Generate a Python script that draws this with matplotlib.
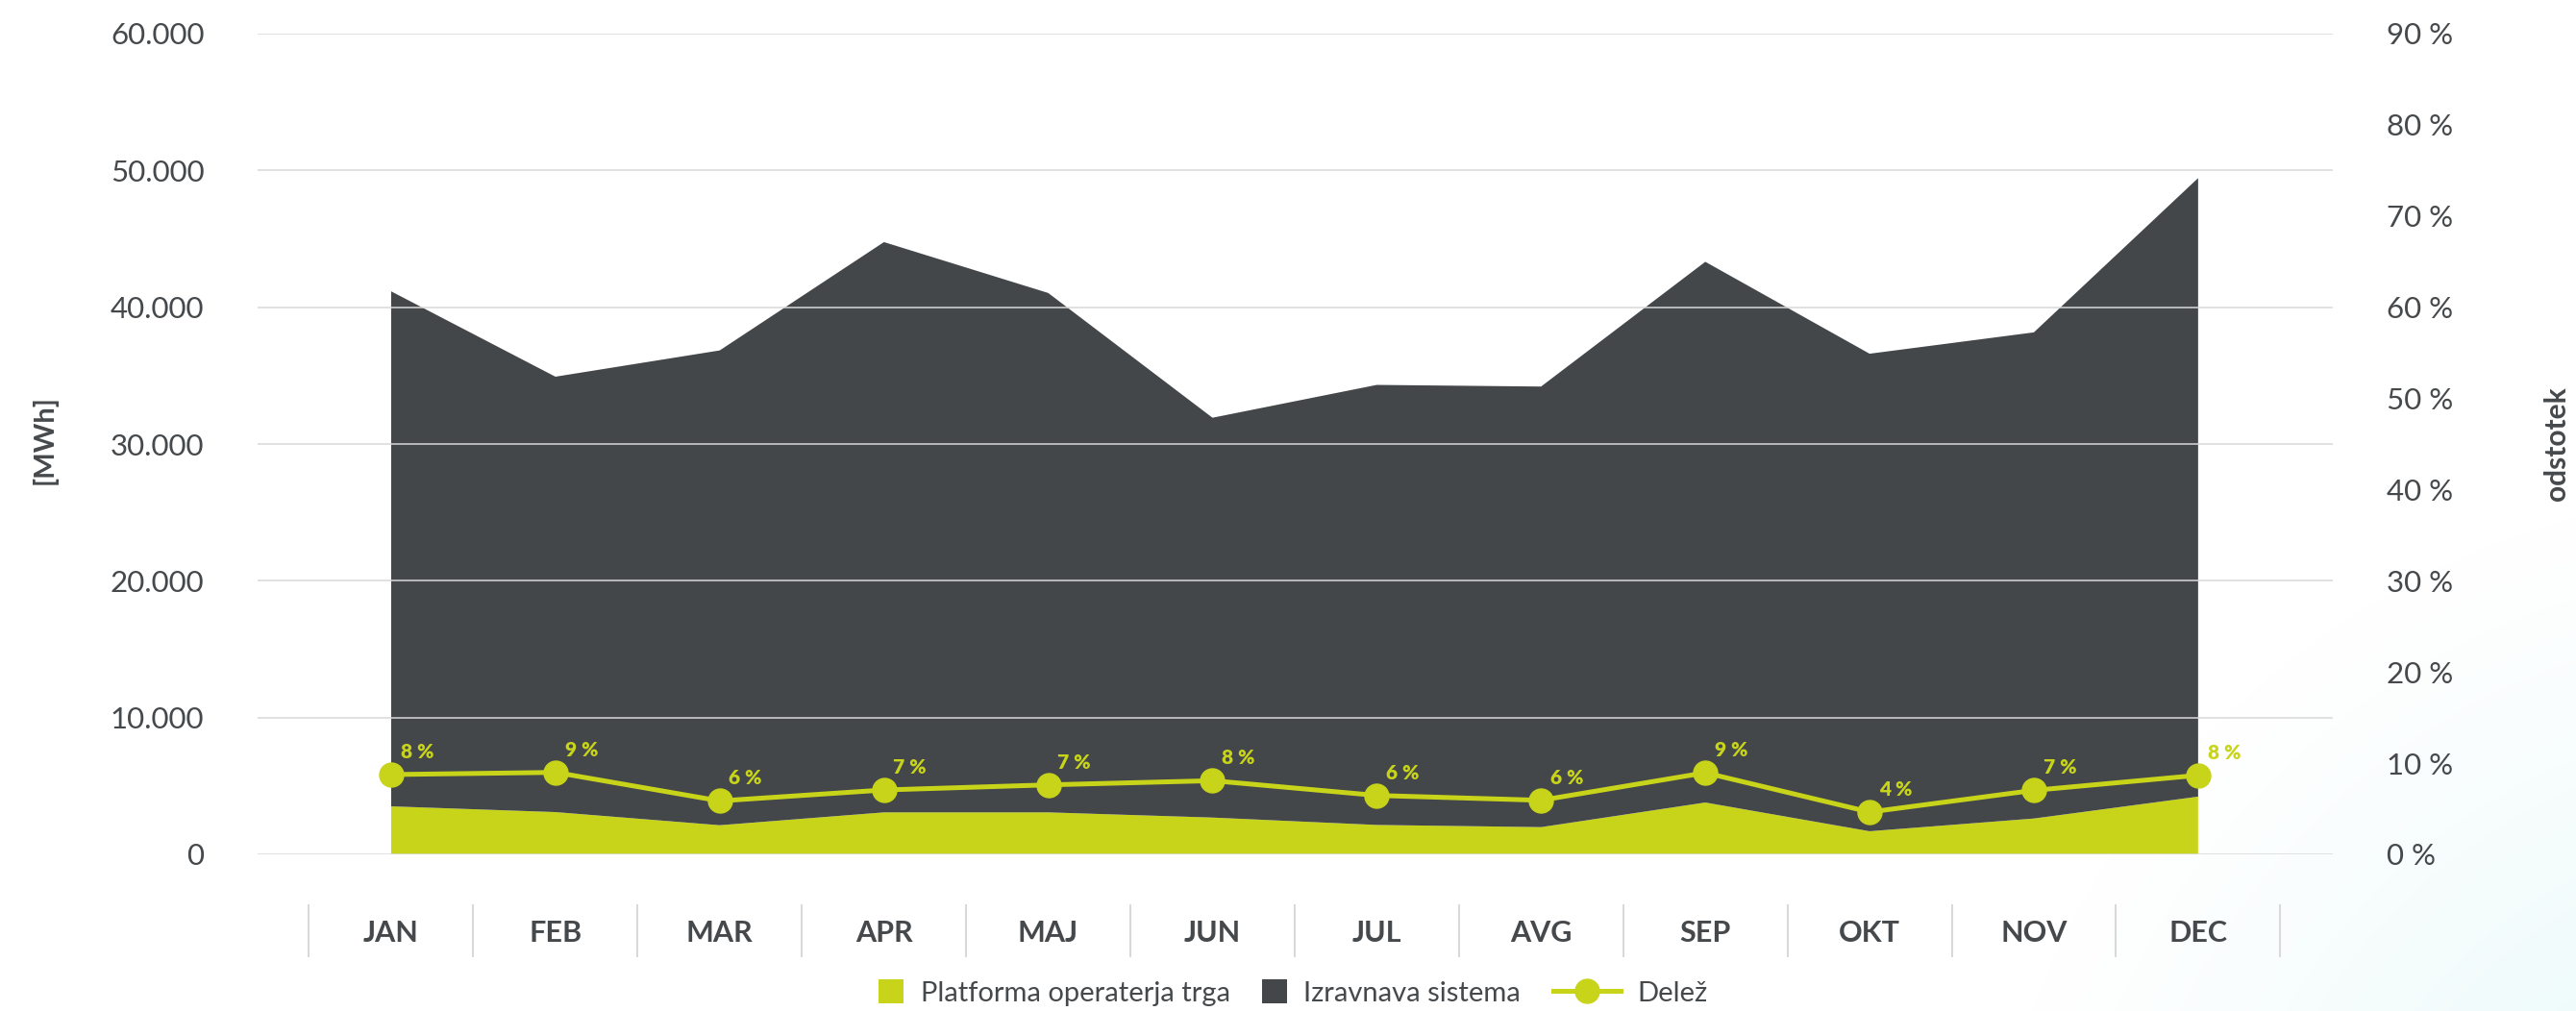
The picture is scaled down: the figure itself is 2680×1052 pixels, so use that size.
import matplotlib
matplotlib.use('Agg')
import matplotlib.pyplot as plt
import numpy as np
from matplotlib.lines import Line2D
from matplotlib.patches import Patch, Rectangle

# data
months = ['JAN', 'FEB', 'MAR', 'APR', 'MAJ', 'JUN', 'JUL', 'AVG', 'SEP', 'OKT', 'NOV', 'DEC']
platforma = [3510, 3090, 2130, 3070, 3070, 2690, 2150, 1990, 3790, 1690, 2620, 4220]
izravnava = [37650, 31830, 34710, 41690, 37970, 29230, 32170, 32210, 39530, 34910, 35540, 45220]
delez = [8.75, 8.99, 5.86, 7.06, 7.62, 8.08, 6.46, 5.93, 8.95, 4.64, 7.02, 8.67]
delez_labels = ['8 %', '9 %', '6 %', '7 %', '7 %', '8 %', '6 %', '6 %', '9 %', '4 %', '7 %', '8 %']
mwh_ticks = [0, 10000, 20000, 30000, 40000, 50000, 60000]
pct_ticks = [0, 10, 20, 30, 40, 50, 60, 70, 80, 90]

GREEN = '#C8D41A'
DARK = '#43474A'
TEXT = '#46494C'
GRID = '#D9D9D9'

plt.rcParams['font.family'] = ['Lato', 'DejaVu Sans']

W, H = 2680, 1052
fig = plt.figure(figsize=(W / 100, H / 100), dpi=100)

# faint background tint in bottom-right corner
bg = fig.add_axes([0, 0, 1, 1], zorder=-10)
yy, xx = np.mgrid[0:H, 0:W]
d = np.hypot(xx - 2900, yy - 1350)
a = np.clip(1 - d / 850, 0, 1) ** 1.2
img = np.ones((H, W, 4))
img[..., 0] = 0.88
img[..., 1] = 0.97
img[..., 2] = 0.97
img[..., 3] = a
bg.imshow(img, extent=[0, W, H, 0], aspect='auto', interpolation='bilinear')
bg.set_xlim(0, W)
bg.set_ylim(H, 0)
bg.axis('off')

ax = fig.add_axes([268 / W, 1 - 889 / H, (2427 - 268) / W, (889 - 35) / H])
ax.patch.set_visible(False)
x = np.arange(len(months))

ax.stackplot(x, platforma, izravnava, colors=[GREEN, DARK], linewidth=0, zorder=1)

ax.set_xlim(-0.813, 11.82)
ax.set_ylim(0, 60000)
ax.set_yticks(mwh_ticks)
ax.set_yticklabels([f'{v:,}'.replace(',', '.') for v in mwh_ticks])
ax.set_axisbelow(False)
ax.grid(axis='y', color=GRID, linewidth=1.1)
ax.grid(axis='x', visible=False)
for s in ax.spines.values():
    s.set_visible(False)
ax.tick_params(axis='y', length=0, pad=40, labelsize=22.5, labelcolor=TEXT)
ax.set_xticks(x)
ax.set_xticklabels(months, fontweight='bold')
ax.tick_params(axis='x', length=0, pad=49, labelsize=22, labelcolor=TEXT)

# category separators under the axis
for b in np.arange(-0.5, len(months), 1.0):
    ax.plot([b, b], [-0.062, -0.124], color=GRID, linewidth=1.5,
            transform=ax.get_xaxis_transform(), clip_on=False)

ax2 = ax.twinx()
ax2.set_ylim(0, 90)
ax2.set_yticks(pct_ticks)
ax2.set_yticklabels([f'{v} %' for v in pct_ticks])
ax2.tick_params(axis='y', length=0, pad=40, labelsize=22.5, labelcolor=TEXT)
for s in ax2.spines.values():
    s.set_visible(False)
ax2.plot(x, delez, color=GREEN, linewidth=3.6, marker='o', markersize=18, zorder=5)
for xi, v, lab in zip(x, delez, delez_labels):
    ax2.annotate(lab, (xi, v), xytext=(7, 17), textcoords='offset points',
                 ha='left', va='center', fontsize=15, fontweight='heavy', color=GREEN)

fig.text(46 / W, 1 - 458 / H, '[MWh]', rotation=90, ha='center', va='center',
         fontsize=21, fontweight='bold', color=TEXT)
fig.text(2660 / W, 1 - 462 / H, 'odstotek', rotation=90, ha='center', va='center',
         fontsize=21.5, fontweight='bold', color=TEXT)


class SquareHandler:
    def legend_artist(self, legend, orig_handle, fontsize, handlebox):
        s = fontsize * 0.88
        handlebox.width = s
        r = Rectangle((0, (handlebox.height - s) / 2 - handlebox.ydescent), s, s,
                      facecolor=orig_handle.get_facecolor(), edgecolor='none',
                      transform=handlebox.get_transform())
        handlebox.add_artist(r)
        return r


h1 = Patch(facecolor=GREEN, label='Platforma operaterja trga')
h2 = Patch(facecolor=DARK, label='Izravnava sistema')
h3 = Line2D([], [], color=GREEN, linewidth=3.6, marker='o', markersize=18, label='Delež')
fig.legend(handles=[h1, h2, h3], loc='center', bbox_to_anchor=(0.502, 1 - 1033 / H),
           ncol=3, frameon=False, fontsize=21, labelcolor=TEXT,
           handlelength=2.4, handleheight=0.9, handletextpad=0.6, columnspacing=1.15,
           handler_map={Patch: SquareHandler()})

fig.savefig('out.png', dpi=100)
